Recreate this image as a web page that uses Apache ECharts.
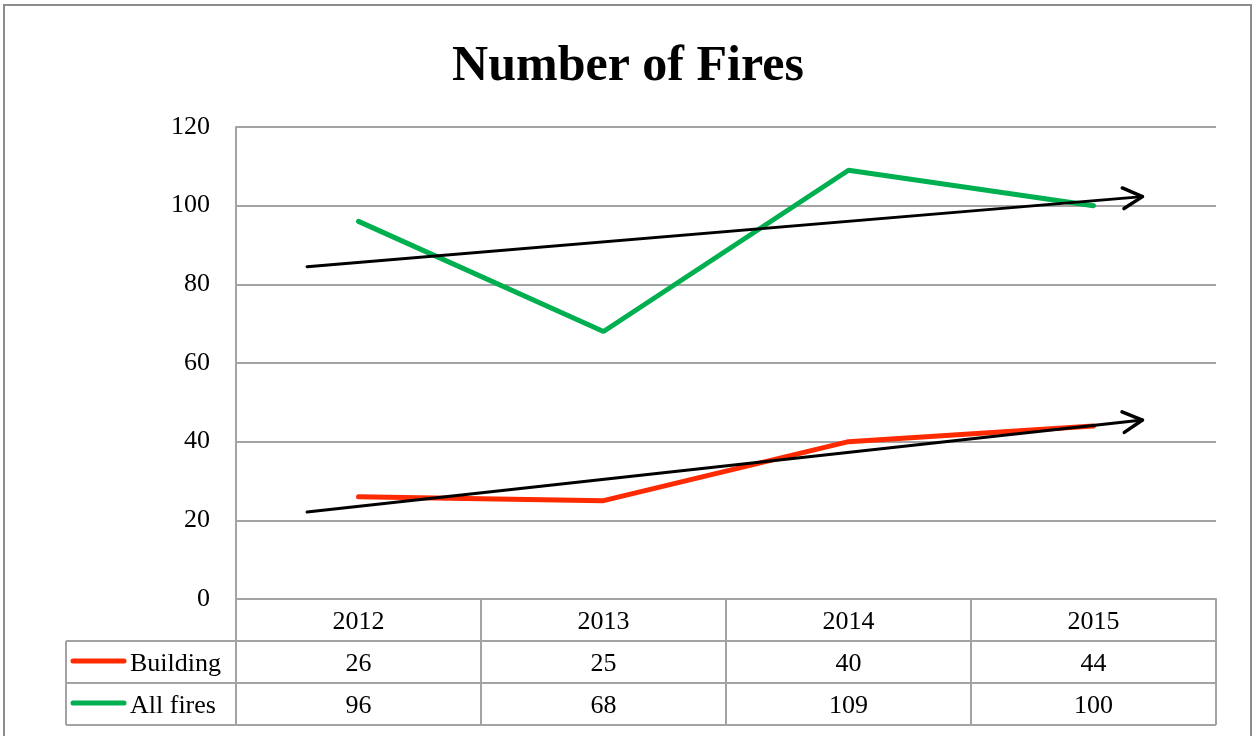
<!DOCTYPE html>
<html>
<head>
<meta charset="utf-8">
<script src="https://cdn.jsdelivr.net/npm/echarts@6/dist/echarts.min.js"></script>
<style>
  html, body { margin: 0; padding: 0; background: #fff; }
  #chart { width: 1256px; height: 736px; }
</style>
</head>
<body>
<div id="chart"></div>
<script>
// data
const years = ["2012", "2013", "2014", "2015"];
const building = [26, 25, 40, 44];
const allFires = [96, 68, 109, 100];
const yTicks = [0, 20, 40, 60, 80, 100, 120];
// hand drawn trend arrows: [xStart, yStart, xEnd, yEnd] in (category index, value)
const trendArrows = [
    [-0.21, 84.5, 3.2, 102.3],
    [-0.21, 22.1, 3.2, 45.5],
];

const serif = "'Liberation Serif', 'DejaVu Serif', serif";
const gray = "#a3a3a3";
const red = "#ff2a00";
const green = "#00b050";
const rowH = 42;
const fs = 26;

const chart = echarts.init(document.getElementById("chart"));

const option = {
    animation: false,
    backgroundColor: "#fff",
    title: {
        text: "Number of Fires",
        left: "center",
        top: 37,
        textStyle: {
            fontFamily: serif,
            fontWeight: "bold",
            fontSize: 50,
            color: "#000",
        },
    },
    grid: { left: 236, right: 40, top: 127, bottom: 137 },
    xAxis: [
        {
            type: "category",
            data: years,
            boundaryGap: true,
            axisLine: { lineStyle: { color: gray, width: 2 } },
            axisTick: {
                show: true,
                length: rowH * 3,
                lineStyle: { color: gray, width: 2 },
            },
            axisLabel: {
                fontFamily: serif,
                fontSize: fs,
                color: "#000",
                margin: 10,
            },
        },
        {
            type: "value",
            min: -0.5,
            max: 3.5,
            show: false,
        },
    ],
    yAxis: {
        type: "value",
        min: yTicks[0],
        max: yTicks[yTicks.length - 1],
        interval: 20,
        axisLine: { show: true, onZero: false, lineStyle: { color: gray, width: 2 } },
        axisTick: { show: false },
        splitLine: { lineStyle: { color: gray, width: 2 } },
        axisLabel: {
            fontFamily: serif,
            fontSize: fs,
            color: "#000",
            margin: 26,
            padding: [7, 0, 0, 0],
        },
    },
    series: [
        {
            name: "Building",
            type: "line",
            data: building,
            symbol: "none",
            lineStyle: { color: red, width: 5, cap: "round" },
            z: 3,
        },
        {
            name: "All fires",
            type: "line",
            data: allFires,
            symbol: "none",
            lineStyle: { color: green, width: 5, cap: "round" },
            z: 3,
        },
        {
            // trend arrows with open chevron heads
            type: "custom",
            xAxisIndex: 1,
            z: 4,
            encode: { x: [0, 2], y: [1, 3] },
            data: trendArrows,
            renderItem: (params, api) => {
                const p0 = api.coord([api.value(0), api.value(1)]);
                const p1 = api.coord([api.value(2), api.value(3)]);
                const ang = Math.atan2(p1[1] - p0[1], p1[0] - p0[0]);
                const len = 22;
                const spread = (28 * Math.PI) / 180;
                const a1 = [
                    p1[0] - len * Math.cos(ang - spread),
                    p1[1] - len * Math.sin(ang - spread),
                ];
                const a2 = [
                    p1[0] - len * Math.cos(ang + spread),
                    p1[1] - len * Math.sin(ang + spread),
                ];
                const style = { stroke: "#000", lineWidth: 3.5, fill: null, lineCap: "round", lineJoin: "round" };
                return {
                    type: "group",
                    children: [
                        { type: "line", shape: { x1: p0[0], y1: p0[1], x2: p1[0], y2: p1[1] }, style: Object.assign({}, style, { lineWidth: 3 }) },
                        { type: "polyline", shape: { points: [a1, p1, a2] }, style: style },
                    ],
                };
            },
        },
    ],
};

chart.setOption(option);

// data table under the axis
function drawTable() {
    const y0 = chart.convertToPixel({ yAxisIndex: 0 }, 0);
    const xLeft = 66;
    const xRight = chart.convertToPixel({ xAxisIndex: 0 }, years.length - 1) + 122.5;
    const g = [];

    // outer frame
    g.push({
        type: "rect",
        shape: { x: 4, y: 5, width: 1247, height: 800 },
        style: { fill: null, stroke: "#8c8c8c", lineWidth: 2 },
        z: 0,
    });

    // horizontal row lines
    for (let r = 1; r <= 3; r++) {
        const y = y0 + rowH * r;
        g.push({
            type: "line",
            shape: { x1: xLeft, y1: y, x2: xRight, y2: y },
            style: { stroke: gray, lineWidth: 2 },
        });
    }
    g.push({
        type: "line",
        shape: { x1: xLeft, y1: y0 + rowH, x2: xLeft, y2: y0 + rowH * 3 },
        style: { stroke: gray, lineWidth: 2 },
    });

    const rows = [
        { name: "Building", color: red, values: building },
        { name: "All fires", color: green, values: allFires },
    ];
    rows.forEach((row, r) => {
        const cy = y0 + rowH * (r + 1) + rowH / 2;
        g.push({
            type: "line",
            shape: { x1: 73, y1: cy - 1, x2: 124, y2: cy - 1 },
            style: { stroke: row.color, lineWidth: 5, lineCap: "round" },
        });
        g.push({
            type: "text",
            x: 130,
            y: cy + 2,
            style: {
                text: row.name,
                fontFamily: serif,
                fontSize: fs,
                fill: "#000",
                align: "left",
                verticalAlign: "middle",
            },
        });
        row.values.forEach((v, i) => {
            g.push({
                type: "text",
                x: chart.convertToPixel({ xAxisIndex: 0 }, i),
                y: cy + 2,
                style: {
                    text: String(v),
                    fontFamily: serif,
                    fontSize: fs,
                    fill: "#000",
                    align: "center",
                    verticalAlign: "middle",
                },
            });
        });
    });

    chart.setOption({ graphic: g });
}

drawTable();
</script>
</body>
</html>
